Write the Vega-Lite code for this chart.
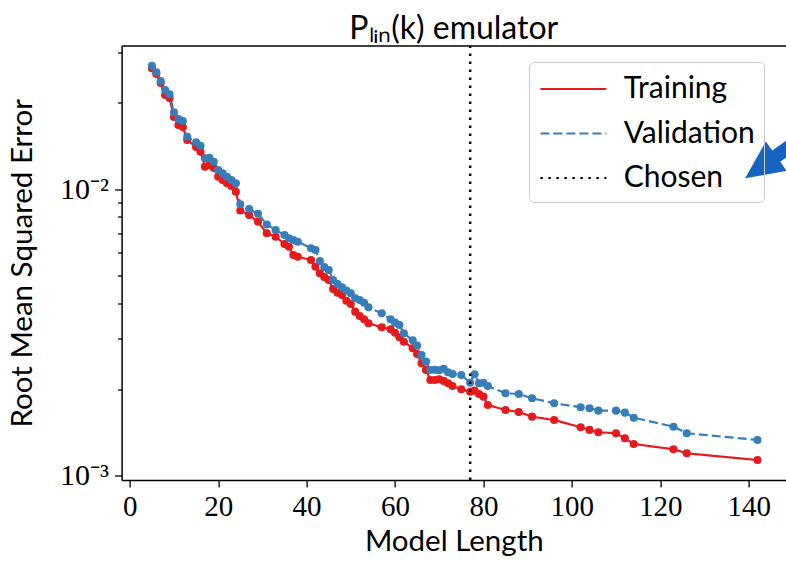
{
  "$schema": "https://vega.github.io/schema/vega-lite/v6.json",
  "width": 664.4,
  "height": 434.5,
  "autosize": {"type": "none"},
  "padding": {"left": 121.6, "top": 45.5, "right": 0, "bottom": 81},
  "background": "white",
  "title": {"text": "Pₗᵢₙ(k) emulator", "font": "Lato", "fontSize": 32, "fontWeight": "normal", "color": "black", "anchor": "middle", "frame": "group", "offset": -2},
  "config": {
    "view": {"stroke": null},
    "axis": {"grid": false, "domainColor": "black", "domainWidth": 1.5, "tickColor": "black", "tickWidth": 1.3, "labelColor": "black", "titleColor": "black", "labelFont": "Liberation Serif", "labelFontSize": 29, "titleFont": "Lato", "titleFontSize": 29.5, "titleFontWeight": "normal"}
  },
  "datasets": {
    "rmse": [
      {"length": 5, "series": "Training", "rmse": 0.02637},
      {"length": 6, "series": "Training", "rmse": 0.02519},
      {"length": 7, "series": "Training", "rmse": 0.02343},
      {"length": 8, "series": "Training", "rmse": 0.02128},
      {"length": 9, "series": "Training", "rmse": 0.02077},
      {"length": 10, "series": "Training", "rmse": 0.01783},
      {"length": 11, "series": "Training", "rmse": 0.01672},
      {"length": 12, "series": "Training", "rmse": 0.01646},
      {"length": 13, "series": "Training", "rmse": 0.01482},
      {"length": 15, "series": "Training", "rmse": 0.01401},
      {"length": 16, "series": "Training", "rmse": 0.01349},
      {"length": 17, "series": "Training", "rmse": 0.01196},
      {"length": 18, "series": "Training", "rmse": 0.01213},
      {"length": 19, "series": "Training", "rmse": 0.01184},
      {"length": 20, "series": "Training", "rmse": 0.01104},
      {"length": 21, "series": "Training", "rmse": 0.01075},
      {"length": 22, "series": "Training", "rmse": 0.01047},
      {"length": 23, "series": "Training", "rmse": 0.01024},
      {"length": 24, "series": "Training", "rmse": 0.009785},
      {"length": 25, "series": "Training", "rmse": 0.008414},
      {"length": 27, "series": "Training", "rmse": 0.008115},
      {"length": 29, "series": "Training", "rmse": 0.00769},
      {"length": 31, "series": "Training", "rmse": 0.007005},
      {"length": 33, "series": "Training", "rmse": 0.006817},
      {"length": 35, "series": "Training", "rmse": 0.006428},
      {"length": 36, "series": "Training", "rmse": 0.00629},
      {"length": 37, "series": "Training", "rmse": 0.005884},
      {"length": 38, "series": "Training", "rmse": 0.005805},
      {"length": 41, "series": "Training", "rmse": 0.005653},
      {"length": 42, "series": "Training", "rmse": 0.005357},
      {"length": 43, "series": "Training", "rmse": 0.00508},
      {"length": 44, "series": "Training", "rmse": 0.004931},
      {"length": 45, "series": "Training", "rmse": 0.004814},
      {"length": 46, "series": "Training", "rmse": 0.004478},
      {"length": 47, "series": "Training", "rmse": 0.004347},
      {"length": 48, "series": "Training", "rmse": 0.004267},
      {"length": 49, "series": "Training", "rmse": 0.004076},
      {"length": 50, "series": "Training", "rmse": 0.00397},
      {"length": 51, "series": "Training", "rmse": 0.003732},
      {"length": 52, "series": "Training", "rmse": 0.003605},
      {"length": 53, "series": "Training", "rmse": 0.00351},
      {"length": 54, "series": "Training", "rmse": 0.003399},
      {"length": 57, "series": "Training", "rmse": 0.003292},
      {"length": 59, "series": "Training", "rmse": 0.003239},
      {"length": 60, "series": "Training", "rmse": 0.003152},
      {"length": 61, "series": "Training", "rmse": 0.003038},
      {"length": 62, "series": "Training", "rmse": 0.002932},
      {"length": 64, "series": "Training", "rmse": 0.002781},
      {"length": 65, "series": "Training", "rmse": 0.002657},
      {"length": 66, "series": "Training", "rmse": 0.002465},
      {"length": 67, "series": "Training", "rmse": 0.002336},
      {"length": 68, "series": "Training", "rmse": 0.002156},
      {"length": 69, "series": "Training", "rmse": 0.002156},
      {"length": 70, "series": "Training", "rmse": 0.002168},
      {"length": 71, "series": "Training", "rmse": 0.00214},
      {"length": 72, "series": "Training", "rmse": 0.002099},
      {"length": 73, "series": "Training", "rmse": 0.002054},
      {"length": 75, "series": "Training", "rmse": 0.002},
      {"length": 77, "series": "Training", "rmse": 0.001962},
      {"length": 78, "series": "Training", "rmse": 0.001978},
      {"length": 79, "series": "Training", "rmse": 0.001926},
      {"length": 80, "series": "Training", "rmse": 0.001885},
      {"length": 81, "series": "Training", "rmse": 0.001763},
      {"length": 85, "series": "Training", "rmse": 0.001694},
      {"length": 88, "series": "Training", "rmse": 0.001667},
      {"length": 91, "series": "Training", "rmse": 0.001605},
      {"length": 96, "series": "Training", "rmse": 0.001563},
      {"length": 102, "series": "Training", "rmse": 0.001474},
      {"length": 104, "series": "Training", "rmse": 0.001443},
      {"length": 106, "series": "Training", "rmse": 0.001416},
      {"length": 110, "series": "Training", "rmse": 0.001405},
      {"length": 112, "series": "Training", "rmse": 0.001349},
      {"length": 114, "series": "Training", "rmse": 0.001289},
      {"length": 123, "series": "Training", "rmse": 0.001235},
      {"length": 126, "series": "Training", "rmse": 0.001196},
      {"length": 142, "series": "Training", "rmse": 0.001133},
      {"length": 5, "series": "Validation", "rmse": 0.02693},
      {"length": 6, "series": "Validation", "rmse": 0.02554},
      {"length": 7, "series": "Validation", "rmse": 0.02381},
      {"length": 8, "series": "Validation", "rmse": 0.02215},
      {"length": 9, "series": "Validation", "rmse": 0.0214},
      {"length": 10, "series": "Validation", "rmse": 0.01852},
      {"length": 11, "series": "Validation", "rmse": 0.01755},
      {"length": 12, "series": "Validation", "rmse": 0.01727},
      {"length": 13, "series": "Validation", "rmse": 0.01522},
      {"length": 15, "series": "Validation", "rmse": 0.01455},
      {"length": 16, "series": "Validation", "rmse": 0.01416},
      {"length": 17, "series": "Validation", "rmse": 0.0128},
      {"length": 18, "series": "Validation", "rmse": 0.01286},
      {"length": 19, "series": "Validation", "rmse": 0.01245},
      {"length": 20, "series": "Validation", "rmse": 0.01165},
      {"length": 21, "series": "Validation", "rmse": 0.01134},
      {"length": 22, "series": "Validation", "rmse": 0.01104},
      {"length": 23, "series": "Validation", "rmse": 0.01075},
      {"length": 24, "series": "Validation", "rmse": 0.01047},
      {"length": 25, "series": "Validation", "rmse": 0.008851},
      {"length": 27, "series": "Validation", "rmse": 0.008516},
      {"length": 29, "series": "Validation", "rmse": 0.008194},
      {"length": 31, "series": "Validation", "rmse": 0.007519},
      {"length": 33, "series": "Validation", "rmse": 0.007193},
      {"length": 35, "series": "Validation", "rmse": 0.00691},
      {"length": 36, "series": "Validation", "rmse": 0.006729},
      {"length": 37, "series": "Validation", "rmse": 0.00664},
      {"length": 38, "series": "Validation", "rmse": 0.006548},
      {"length": 41, "series": "Validation", "rmse": 0.00621},
      {"length": 42, "series": "Validation", "rmse": 0.006126},
      {"length": 43, "series": "Validation", "rmse": 0.005607},
      {"length": 44, "series": "Validation", "rmse": 0.005344},
      {"length": 45, "series": "Validation", "rmse": 0.005216},
      {"length": 46, "series": "Validation", "rmse": 0.004814},
      {"length": 47, "series": "Validation", "rmse": 0.004662},
      {"length": 48, "series": "Validation", "rmse": 0.00454},
      {"length": 49, "series": "Validation", "rmse": 0.004424},
      {"length": 50, "series": "Validation", "rmse": 0.004326},
      {"length": 51, "series": "Validation", "rmse": 0.004156},
      {"length": 52, "series": "Validation", "rmse": 0.004099},
      {"length": 53, "series": "Validation", "rmse": 0.004011},
      {"length": 54, "series": "Validation", "rmse": 0.003865},
      {"length": 57, "series": "Validation", "rmse": 0.003683},
      {"length": 59, "series": "Validation", "rmse": 0.00351},
      {"length": 60, "series": "Validation", "rmse": 0.003416},
      {"length": 61, "series": "Validation", "rmse": 0.003353},
      {"length": 62, "series": "Validation", "rmse": 0.003137},
      {"length": 64, "series": "Validation", "rmse": 0.002965},
      {"length": 65, "series": "Validation", "rmse": 0.002844},
      {"length": 66, "series": "Validation", "rmse": 0.002635},
      {"length": 67, "series": "Validation", "rmse": 0.002497},
      {"length": 68, "series": "Validation", "rmse": 0.002336},
      {"length": 69, "series": "Validation", "rmse": 0.00234},
      {"length": 70, "series": "Validation", "rmse": 0.00233},
      {"length": 71, "series": "Validation", "rmse": 0.00236},
      {"length": 72, "series": "Validation", "rmse": 0.002293},
      {"length": 73, "series": "Validation", "rmse": 0.002262},
      {"length": 75, "series": "Validation", "rmse": 0.002244},
      {"length": 77, "series": "Validation", "rmse": 0.002109},
      {"length": 78, "series": "Validation", "rmse": 0.002257},
      {"length": 79, "series": "Validation", "rmse": 0.002099},
      {"length": 80, "series": "Validation", "rmse": 0.002109},
      {"length": 81, "series": "Validation", "rmse": 0.002054},
      {"length": 85, "series": "Validation", "rmse": 0.001937},
      {"length": 88, "series": "Validation", "rmse": 0.001926},
      {"length": 91, "series": "Validation", "rmse": 0.001861},
      {"length": 96, "series": "Validation", "rmse": 0.001788},
      {"length": 102, "series": "Validation", "rmse": 0.001731},
      {"length": 104, "series": "Validation", "rmse": 0.001717},
      {"length": 106, "series": "Validation", "rmse": 0.001685},
      {"length": 110, "series": "Validation", "rmse": 0.001685},
      {"length": 112, "series": "Validation", "rmse": 0.001658},
      {"length": 114, "series": "Validation", "rmse": 0.001592},
      {"length": 123, "series": "Validation", "rmse": 0.001481},
      {"length": 126, "series": "Validation", "rmse": 0.001405},
      {"length": 142, "series": "Validation", "rmse": 0.001331}
    ],
    "chosen": [{"length": 77, "series": "Chosen"}],
    "arrow": [{"length": 139.2, "rmse": 0.0109}]
  },
  "layer": [
    {
      "data": {"name": "rmse"},
      "mark": {"type": "line", "strokeWidth": 2.2, "point": {"filled": true, "size": 66, "opacity": 1}},
      "encoding": {
        "x": {"field": "length", "type": "quantitative", "scale": {"domain": [-1.85, 148.45], "nice": false, "zero": false},
          "axis": {"values": [0, 20, 40, 60, 80, 100, 120, 140], "title": "Model Length", "tickSize": 7, "labelPadding": 5, "titlePadding": 6}},
        "y": {"field": "rmse", "type": "quantitative", "scale": {"type": "log", "domain": [0.000965, 0.03168], "nice": false},
          "axis": {"values": [0.001, 0.002, 0.003, 0.004, 0.005, 0.006, 0.007, 0.008, 0.009, 0.01, 0.02, 0.03],
            "labelExpr": "datum.value == 0.01 ? '10⁻²' : (datum.value == 0.001 ? '10⁻³' : '')",
            "tickSize": {"condition": {"test": "datum.value == 0.01 || datum.value == 0.001", "value": 7}, "value": 4},
            "labelFontSize": 30, "labelPadding": 6, "title": "Root Mean Squared Error", "titlePadding": 22}},
        "color": {"field": "series", "type": "nominal", "scale": {"domain": ["Training", "Validation", "Chosen"], "range": ["#e41a1c", "#377eb8", "#000000"]},
          "legend": {"title": null, "orient": "none", "legendX": 407.4, "legendY": 16.5, "symbolType": "M-2,0H2", "symbolSize": 1089, "symbolOffset": 17.4, "symbolStrokeWidth": 2.2, "labelFont": "Lato", "labelFontSize": 30, "labelColor": "black", "labelOffset": 32.3, "padding": 9, "rowPadding": 11.5, "strokeColor": "#cccccc", "cornerRadius": 5, "labelLimit": 400}},
        "strokeDash": {"field": "series", "type": "nominal", "scale": {"domain": ["Training", "Validation", "Chosen"], "range": [[1, 0], [9, 4], [2.5, 5.5]]},
          "legend": {"title": null, "orient": "none", "legendX": 407.4, "legendY": 16.5, "symbolType": "M-2,0H2", "symbolSize": 1089, "symbolOffset": 17.4, "symbolStrokeWidth": 2.2, "labelFont": "Lato", "labelFontSize": 30, "labelColor": "black", "labelOffset": 32.3, "padding": 9, "rowPadding": 11.5, "strokeColor": "#cccccc", "cornerRadius": 5, "labelLimit": 400}}
      }
    },
    {
      "data": {"name": "chosen"},
      "mark": {"type": "rule", "strokeWidth": 2.5},
      "encoding": {
        "x": {"field": "length", "type": "quantitative", "axis": null},
        "color": {"field": "series", "type": "nominal"},
        "strokeDash": {"field": "series", "type": "nominal"}
      }
    },
    {
      "data": {"name": "arrow"},
      "mark": {"type": "point", "shape": "M0,0 L3.6,-1.7 L3.6,-0.65 L12,-0.65 L12,0.65 L3.6,0.65 L3.6,1.7 Z", "size": 450, "angle": 324.6, "filled": true, "color": "#1565c0", "opacity": 1, "strokeWidth": 0, "clip": true},
      "encoding": {
        "x": {"field": "length", "type": "quantitative", "axis": {"orient": "top", "labels": false, "ticks": false, "title": null, "domain": true}},
        "y": {"field": "rmse", "type": "quantitative",
          "axis": {"values": [0.001, 0.002, 0.003, 0.004, 0.005, 0.006, 0.007, 0.008, 0.009, 0.01, 0.02, 0.03],
            "labelExpr": "datum.value == 0.01 ? '10⁻²' : (datum.value == 0.001 ? '10⁻³' : '')",
            "tickSize": {"condition": {"test": "datum.value == 0.01 || datum.value == 0.001", "value": 7}, "value": 4},
            "labelFontSize": 30, "labelPadding": 6, "title": "Root Mean Squared Error", "titlePadding": 22}}
      }
    }
  ],
  "resolve": {"axis": {"x": "independent"}}
}
